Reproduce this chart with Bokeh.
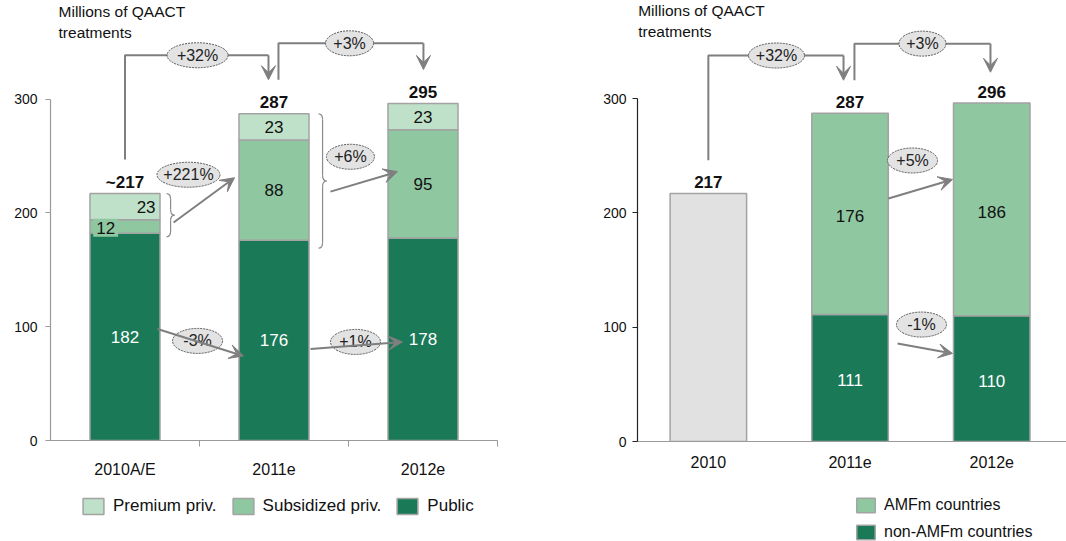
from bokeh.plotting import figure
from bokeh.layouts import row, column
from bokeh.models import (Range1d, FixedTicker, Arrow, VeeHead, Label, Legend,
                          LegendItem, ColumnDataSource)
from bokeh.core.properties import value
from bokeh.embed import file_html
from bokeh.resources import INLINE

FONT = "Liberation Sans"

# ---- Market by segment (left panel) ----
seg_years = ["2010A/E", "2011e", "2012e"]
public = [182, 176, 178]
subsidized = [12, 88, 95]
premium = [23, 23, 23]
seg_total_labels = ["~217", "287", "295"]
seg_year_growth = ["+32%", "+3%"]
seg_inner_growth = ["+221%", "+6%", "-3%", "+1%"]

# ---- Market by country group (right panel) ----
cty_years = ["2010", "2011e", "2012e"]
unsplit_2010 = [217]
non_amfm = [111, 110]      # 2011e, 2012e
amfm = [176, 186]          # 2011e, 2012e
cty_total_labels = ["217", "287", "296"]
cty_year_growth = ["+32%", "+3%"]
cty_inner_growth = ["+5%", "-1%"]

C_PUBLIC = "#1a7a57"
C_SUBS = "#8fc7a1"
C_PREM = "#bfe1c9"
C_GREY = "#e1e1e1"
C_OUTLINE = "#a3a3a3"
C_ARROW = "#7f7f7f"
PX_PER_UNIT = 1.1433
NUM_SIZE = "17px"


def make_fig(x_start, x_end, y_end, left, right, bottom, axis_color, labels,
             label_standoff, x_minor=None):
    p = figure(width=533, height=480, x_range=Range1d(x_start, x_end),
               y_range=Range1d(0, y_end), output_backend="svg",
               toolbar_location=None, min_border_left=left, min_border_right=right,
               min_border_top=0, min_border_bottom=bottom)
    p.outline_line_color = None
    p.grid.grid_line_color = None

    ya = p.yaxis[0]
    ya.ticker = FixedTicker(ticks=[0, 100, 200, 300], minor_ticks=[])
    ya.bounds = (0, 300)
    ya.axis_line_color = axis_color
    ya.axis_line_width = 1.2
    ya.major_tick_line_color = axis_color
    ya.major_tick_out = 5
    ya.major_tick_in = 0
    ya.minor_tick_out = 0
    ya.minor_tick_in = 0
    ya.major_label_standoff = label_standoff
    ya.major_label_text_font = FONT
    ya.major_label_text_font_size = "14px"
    ya.major_label_text_color = "#111111"

    xa = p.xaxis[0]
    xa.ticker = FixedTicker(ticks=list(range(len(labels))),
                            minor_ticks=x_minor if x_minor else [])
    xa.major_label_overrides = {i: t for i, t in enumerate(labels)}
    xa.axis_line_color = "#9a9a9a"
    xa.axis_line_width = 1.2
    xa.major_tick_out = 0
    xa.major_tick_in = 0
    xa.minor_tick_in = 0
    xa.minor_tick_out = 6 if x_minor else 0
    xa.minor_tick_line_color = "#9a9a9a"
    xa.major_label_standoff = 14
    xa.major_label_text_font = FONT
    xa.major_label_text_font_size = "16px"
    xa.major_label_text_color = "#111111"
    return p


def legend_fig(entries, font_size, **legend_kw):
    # a strip under each chart holding its key; its frame lines up with the chart's
    p = figure(width=533, height=61, x_range=Range1d(0, 1), y_range=Range1d(0, 1),
               output_backend="svg", toolbar_location=None, x_axis_location=None,
               y_axis_location=None, min_border=0)
    p.outline_line_color = None
    p.grid.grid_line_color = None
    p.grid.visible = False
    items = []
    for label, color in entries:
        # swatch-only renderer: no drawable data, just the styling for the key
        r = p.vbar(x=[float("nan")], top=[float("nan")], width=0.1, fill_color=color,
                   line_color=C_OUTLINE, line_width=1.5)
        items.append(LegendItem(label=label, renderers=[r]))
    p.add_layout(Legend(items=items, padding=0, margin=0, border_line_color=None,
                        background_fill_alpha=0, label_text_font=FONT,
                        label_text_font_size=font_size, label_text_color="#111111",
                        label_standoff=7, **legend_kw))
    return p


def txt(p, xs, ys, texts, size, color="#111111", bold=False, align="center",
        baseline="middle", **kw):
    p.text(x=xs, y=ys, text=texts, text_font=value(FONT), text_font_size=size,
           text_color=color, text_font_style="bold" if bold else "normal",
           text_align=align, text_baseline=baseline, **kw)


def bubble(p, x, y, label, w):
    p.ellipse(x=[x], y=[y], width=w, height=25, width_units="screen",
              height_units="screen", fill_color="#e3e3e3", line_color="#555555",
              line_dash="2 1", line_width=1)
    txt(p, [x], [y], [label], "16px", color="#222222")


def arrow(p, x0, y0, x1, y1, width=2):
    p.add_layout(Arrow(end=VeeHead(size=14, fill_color=C_ARROW, line_color=C_ARROW,
                                   line_width=1),
                       x_start=x0, y_start=y0, x_end=x1, y_end=y1,
                       line_color=C_ARROW, line_width=width))


def elbow(p, x0, y0, x1, y_top, y_tip, label, bubble_x, bubble_w):
    # up from one bar, across, then down onto the next bar
    p.line([x0, x0, x1], [y0, y_top, y_top], line_color=C_ARROW, line_width=2)
    arrow(p, x1, y_top, x1, y_tip)
    bubble(p, bubble_x, y_top, label, bubble_w)


def brace(p, x0, w, y_top, y_bot, r):
    xm, xt, ym = x0 + w / 2, x0 + w, (y_top + y_bot) / 2
    p.quadratic(x0=[x0, xm, xt, xm], y0=[y_top, ym + r, ym, y_bot + r],
                x1=[xm, xt, xm, x0], y1=[y_top - r, ym, ym - r, y_bot],
                cx=[xm, xm, xm, xm], cy=[y_top, ym, ym, y_bot],
                line_color="#8a8a8a", line_width=1.2)
    p.segment(x0=[xm, xm], y0=[y_top - r, ym - r], x1=[xm, xm], y1=[ym + r, y_bot + r],
              line_color="#8a8a8a", line_width=1.2)


def header(p, x):
    p.add_layout(Label(x=x, y=384, text="Millions of QAACT\ntreatments",
                       text_font=FONT, text_font_size="15.5px", text_color="#111111",
                       text_baseline="top", text_line_height=1.2))


# =================== left panel ===================
left = make_fig(-0.5, 2.5, 442 / PX_PER_UNIT, 50, 36, 38, "#9a9a9a", seg_years, 8,
                x_minor=[0.5, 1.5, 2.5])
xs = list(range(len(seg_years)))
src = ColumnDataSource(dict(x=xs, public=public, subsidized=subsidized, premium=premium))
left.vbar_stack(["public", "subsidized", "premium"], x="x", width=0.47, source=src,
                fill_color=[C_PUBLIC, C_SUBS, C_PREM], line_color=C_OUTLINE,
                line_width=1.5)

seg_tot = [a + b + c for a, b, c in zip(public, subsidized, premium)]
txt(left, xs, [t + 10 for t in seg_tot], seg_total_labels, NUM_SIZE, bold=True,
    baseline="alphabetic")

# segment values
pub_mid = [v / 2 for v in public]
sub_mid = [a + b / 2 for a, b in zip(public, subsidized)]
prem_mid = [a + b + c / 2 for a, b, c in zip(public, subsidized, premium)]
txt(left, xs, pub_mid, [str(v) for v in public], NUM_SIZE, color="white")
txt(left, xs[1:], sub_mid[1:], [str(v) for v in subsidized[1:]], NUM_SIZE)
txt(left, xs[1:], prem_mid[1:], [str(v) for v in premium[1:]], NUM_SIZE)
# the thin 2010 private segments carry their labels off-centre
txt(left, [0.205], [prem_mid[0]], [str(premium[0])], NUM_SIZE, align="right")
txt(left, [-0.13], [sub_mid[0] - 1], [str(subsidized[0])], NUM_SIZE,
    background_fill_color=C_SUBS, padding=3)

# year-on-year growth of the totals
elbow(left, 0, 247, 0.963, 338.5, seg_tot[1] + 30, seg_year_growth[0], 0.487, 61)
elbow(left, 1.03, seg_tot[1] + 30, 2.003, 349, seg_tot[2] + 30, seg_year_growth[1],
      1.507, 48)

# private-sector growth
brace(left, 0.279, 0.054, seg_tot[0], public[0] - 3, 5)
brace(left, 1.299, 0.054, seg_tot[1], public[1] - 7, 5)
arrow(left, 0.326, 191.5, 0.735, 230.9)
bubble(left, 0.426, 233.5, seg_inner_growth[0], 63)
arrow(left, 1.379, 218.7, 1.829, 236.2)
bubble(left, 1.513, 249.3, seg_inner_growth[1], 48)

# public-sector growth
arrow(left, 0.218, 98, 0.795, 74.3)
bubble(left, 0.487, 87.5, seg_inner_growth[2], 50)
arrow(left, 1.245, 80.5, 1.862, 86.6)
bubble(left, 1.547, 86.6, seg_inner_growth[3], 50)

header(left, -0.446)

left_key = legend_fig([("Premium priv.", C_PREM), ("Subsidized priv.", C_SUBS),
                       ("Public", C_PUBLIC)], "17px",
                      orientation="horizontal", location=(30, 25), spacing=13,
                      glyph_width=26, glyph_height=20, label_height=20)

# =================== right panel ===================
SLOT = 141.7
R_X1 = (533 - 104) / SLOT - 0.5
right = make_fig(-0.5, R_X1, 441 / PX_PER_UNIT, 104, 0, 39, "#222222", cty_years, 6)

BW = 0.54
right.vbar(x=[0], top=unsplit_2010, width=BW, fill_color=C_GREY,
           line_color=C_OUTLINE, line_width=1.5)
xs2 = [1, 2]
src2 = ColumnDataSource(dict(x=xs2, non_amfm=non_amfm, amfm=amfm))
right.vbar_stack(["non_amfm", "amfm"], x="x", width=BW, source=src2,
                 fill_color=[C_PUBLIC, C_SUBS], line_color=C_OUTLINE, line_width=1.5)

cty_tot = unsplit_2010 + [a + b for a, b in zip(non_amfm, amfm)]
txt(right, [0, 1, 2], [t + 10 for t in cty_tot], cty_total_labels, NUM_SIZE, bold=True,
    baseline="alphabetic")
txt(right, xs2, [v / 2 - 2 for v in non_amfm], [str(v) for v in non_amfm], NUM_SIZE,
    color="white")
txt(right, xs2, [a + b / 2 - 2 for a, b in zip(non_amfm, amfm)], [str(v) for v in amfm],
    NUM_SIZE)

elbow(right, 0, 246, 0.954, 337.6, cty_tot[1] + 29, cty_year_growth[0], 0.481, 56)
elbow(right, 1.031, cty_tot[1] + 29, 1.991, 348, cty_tot[2] + 27, cty_year_growth[1],
      1.511, 47)

arrow(right, 1.271, 212.5, 1.723, 229.2)
bubble(right, 1.441, 245.8, cty_inner_growth[0], 50)
arrow(right, 1.335, 85.7, 1.723, 77)
bubble(right, 1.504, 102.3, cty_inner_growth[1], 50)

header(right, -0.495)

right_key = legend_fig([("AMFm countries", C_SUBS), ("non-AMFm countries", C_PUBLIC)],
                       "16px", orientation="vertical", location=(217, 0), spacing=9,
                       glyph_width=23, glyph_height=18, label_height=18)

layout = row(column(left, left_key), column(right, right_key))
open("out.html", "w").write(file_html(layout, INLINE))
